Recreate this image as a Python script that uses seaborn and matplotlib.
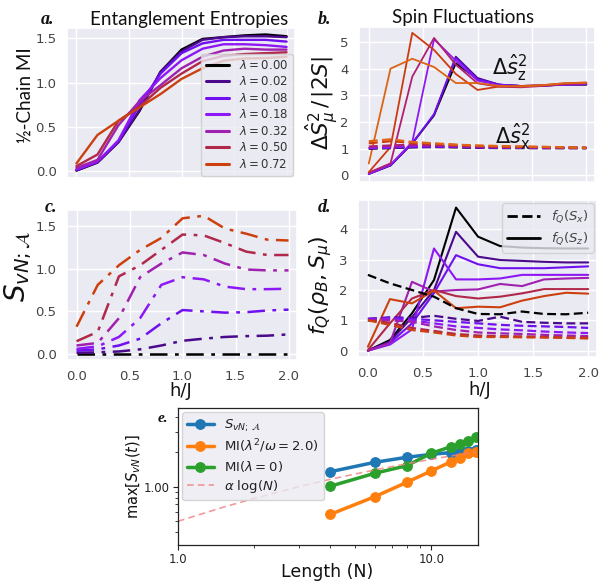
import numpy as np
import pandas as pd
import matplotlib
matplotlib.use("Agg")
import matplotlib.pyplot as plt
import seaborn as sns
from matplotlib.lines import Line2D
from matplotlib.ticker import FixedLocator, FormatStrFormatter, LogLocator, NullFormatter

# ---------------- data ----------------
h = [0.0, 0.2, 0.4, 0.6, 0.8, 1.0, 1.2, 1.4, 1.6, 1.8, 2.0]
lambdas = ["0.00", "0.02", "0.08", "0.18", "0.32", "0.50", "0.72"]
colors = ["#000000", "#4b0a8c", "#7010f0", "#8e18f5", "#a020b0", "#b0284a", "#cc4010"]
colors_b = ["#000000", "#4b0a8c", "#7010f0", "#9018f0", "#b02070", "#cc3a10", "#dd6414"]

# panel a: half-chain MI
mi_000 = [0.01, 0.10, 0.33, 0.68, 1.12, 1.37, 1.49, 1.51, 1.53, 1.54, 1.52]
mi_002 = [0.01, 0.10, 0.33, 0.69, 1.12, 1.35, 1.48, 1.51, 1.52, 1.52, 1.51]
mi_008 = [0.02, 0.11, 0.34, 0.75, 1.10, 1.33, 1.44, 1.48, 1.48, 1.48, 1.46]
mi_018 = [0.02, 0.11, 0.35, 0.80, 1.05, 1.25, 1.38, 1.43, 1.43, 1.42, 1.40]
mi_032 = [0.04, 0.13, 0.52, 0.79, 0.97, 1.16, 1.29, 1.36, 1.38, 1.37, 1.37]
mi_050 = [0.06, 0.19, 0.57, 0.73, 0.94, 1.10, 1.24, 1.30, 1.32, 1.33, 1.34]
mi_072 = [0.09, 0.41, 0.57, 0.72, 0.87, 1.04, 1.16, 1.245, 1.27, 1.275, 1.29]

# panel b: spin fluctuations (solid: z, dashed: x)
sz_000 = [0.06, 0.37, 1.20, 2.25, 4.20, 3.60, 3.40, 3.35, 3.37, 3.40, 3.40]
sz_002 = [0.05, 0.37, 1.20, 2.25, 4.45, 3.65, 3.40, 3.35, 3.35, 3.40, 3.40]
sz_008 = [0.05, 0.38, 1.20, 2.30, 4.40, 3.60, 3.40, 3.35, 3.36, 3.40, 3.42]
sz_018 = [0.06, 0.40, 1.25, 5.10, 4.30, 3.55, 3.38, 3.35, 3.37, 3.40, 3.42]
sz_032 = [0.10, 0.45, 3.70, 5.15, 4.15, 3.45, 3.32, 3.30, 3.35, 3.42, 3.45]
sz_050 = [0.12, 1.06, 5.34, 4.70, 3.80, 3.20, 3.33, 3.35, 3.38, 3.45, 3.48]
sz_072 = [0.44, 4.00, 4.37, 4.06, 3.46, 3.46, 3.35, 3.33, 3.38, 3.45, 3.47]
sx_000 = [1.00, 1.02, 1.05, 1.06, 1.05, 1.03, 1.02, 1.02, 1.02, 1.02, 1.02]
sx_002 = [1.01, 1.03, 1.06, 1.07, 1.06, 1.04, 1.03, 1.03, 1.02, 1.02, 1.02]
sx_008 = [1.02, 1.04, 1.07, 1.08, 1.07, 1.05, 1.04, 1.03, 1.03, 1.03, 1.02]
sx_018 = [1.03, 1.06, 1.10, 1.10, 1.08, 1.06, 1.05, 1.04, 1.04, 1.03, 1.03]
sx_032 = [1.08, 1.12, 1.15, 1.13, 1.10, 1.08, 1.06, 1.05, 1.05, 1.04, 1.03]
sx_050 = [1.20, 1.28, 1.22, 1.18, 1.14, 1.10, 1.08, 1.07, 1.06, 1.05, 1.04]
sx_072 = [1.28, 1.35, 1.25, 1.20, 1.15, 1.12, 1.10, 1.08, 1.07, 1.05, 1.03]

# panel c: S_vN;A
sv_000 = [0.00, 0.00, 0.00, 0.00, 0.00, 0.00, 0.00, 0.00, 0.00, 0.00, 0.00]
sv_002 = [0.015, 0.02, 0.03, 0.055, 0.10, 0.155, 0.18, 0.20, 0.21, 0.215, 0.23]
sv_008 = [0.04, 0.055, 0.10, 0.18, 0.36, 0.515, 0.50, 0.485, 0.49, 0.51, 0.52]
sv_018 = [0.06, 0.09, 0.20, 0.42, 0.81, 0.90, 0.875, 0.79, 0.76, 0.76, 0.765]
sv_032 = [0.10, 0.13, 0.42, 0.90, 1.06, 1.19, 1.16, 1.06, 0.99, 0.98, 0.98]
sv_050 = [0.15, 0.26, 0.91, 1.04, 1.22, 1.40, 1.39, 1.30, 1.20, 1.16, 1.16]
sv_072 = [0.32, 0.81, 1.04, 1.22, 1.36, 1.59, 1.62, 1.47, 1.41, 1.34, 1.33]

# panel d: quantum Fisher information (solid: S_z, dashed: S_x)
fz_000 = [0.00, 0.35, 1.23, 2.33, 4.72, 3.76, 3.45, 3.40, 3.38, 3.37, 3.37]
fz_002 = [0.00, 0.30, 1.10, 2.00, 3.92, 3.10, 2.99, 2.96, 2.93, 2.91, 2.91]
fz_008 = [0.00, 0.25, 0.90, 1.90, 3.15, 2.85, 2.72, 2.72, 2.72, 2.75, 2.78]
fz_018 = [0.00, 0.20, 0.70, 3.37, 2.35, 2.35, 2.38, 2.50, 2.50, 2.50, 2.50]
fz_032 = [0.00, 0.25, 2.27, 1.95, 2.00, 2.02, 2.20, 2.13, 2.35, 2.38, 2.40]
fz_050 = [0.02, 0.90, 1.72, 2.00, 1.80, 1.72, 1.78, 1.89, 2.03, 2.03, 2.03]
fz_072 = [0.13, 1.70, 1.56, 1.98, 1.40, 1.45, 1.43, 1.65, 1.80, 1.91, 1.88]
fx_000 = [2.50, 2.22, 2.00, 1.78, 1.40, 1.21, 1.20, 1.29, 1.21, 1.20, 1.25]
fx_002 = [1.05, 1.10, 1.08, 1.15, 1.05, 0.98, 1.12, 0.95, 0.92, 0.90, 0.90]
fx_008 = [1.05, 1.08, 1.05, 1.00, 0.95, 0.90, 0.85, 0.82, 0.80, 0.78, 0.75]
fx_018 = [1.03, 1.05, 1.00, 0.90, 0.80, 0.75, 0.70, 0.67, 0.63, 0.60, 0.58]
fx_032 = [1.00, 1.00, 0.95, 0.80, 0.68, 0.60, 0.57, 0.55, 0.52, 0.50, 0.48]
fx_050 = [1.00, 0.92, 0.75, 0.65, 0.55, 0.50, 0.48, 0.47, 0.45, 0.44, 0.43]
fx_072 = [1.00, 0.85, 0.68, 0.60, 0.50, 0.45, 0.45, 0.44, 0.43, 0.42, 0.40]

# panel e: scaling with length
N = [4, 6, 8, 10, 12, 13, 14, 15]
e_svn = [1.35, 1.63, 1.80, 1.91, 1.98, 2.00, 2.04, 2.08]
e_mi2 = [0.575, 0.82, 1.09, 1.37, 1.65, 1.77, 1.95, 2.01]
e_mi0 = [1.01, 1.31, 1.52, 1.95, 2.23, 2.34, 2.51, 2.69]
fit_N = [1.0, 1.5, 2.0, 3.0, 4.0, 6.0, 8.0, 10.0, 12.0, 15.0]
fit_y = [0.50, 0.66, 0.79, 1.00, 1.16, 1.40, 1.58, 1.73, 1.85, 2.00]

# ---------------- figure ----------------
sns.set_theme(style="darkgrid")
W, H = 605, 581
fig = plt.figure(figsize=(W / 100, H / 100), dpi=100)

def box(l, r, t, b):
    return [l / W, 1 - b / H, (r - l) / W, (b - t) / H]

axa = fig.add_axes(box(67, 295, 28, 178))
axb = fig.add_axes(box(359, 595, 27, 182))
axc = fig.add_axes(box(67, 297, 210, 360))
axd = fig.add_axes(box(358, 597, 200, 357))
axe = fig.add_axes(box(178, 478, 408, 545))

tick_col = "#444444"
for ax in (axa, axb, axc, axd):
    ax.set_xticks([0.0, 0.5, 1.0, 1.5, 2.0])
    ax.tick_params(axis="both", labelsize=9.5, colors=tick_col, pad=1.5)
    ax.set_xlim(-0.09, 2.08)

def line(ax, y, c, ls="-", lw=1.6, label=None, dashes=None):
    sns.lineplot(x=h, y=y, color=c, lw=lw, ax=ax, label=label, linestyle=ls)
    if dashes is not None:
        ax.lines[-1].set_dashes(dashes)

# a
mi_all = [mi_000, mi_002, mi_008, mi_018, mi_032, mi_050, mi_072]
for lam, y, c in zip(lambdas, mi_all, colors):
    line(axa, y, c, lw=1.7, label=r"$\lambda = %s$" % lam)
axa.set_ylim(-0.074, 1.613)
axa.set_yticks([0.0, 0.5, 1.0, 1.5])
axa.set_xticklabels([])
leg = axa.legend(loc="lower right", fontsize=8.5, frameon=True, handlelength=2.0,
                 borderpad=0.4, labelspacing=0.3, handletextpad=0.8,
                 borderaxespad=0.2)
for t in leg.get_texts():
    t.set_color("#333333")
for l in leg.get_lines():
    l.set_linewidth(2.2)

# b
sz_all = [sz_000, sz_002, sz_008, sz_018, sz_032, sz_050, sz_072]
sx_all = [sx_000, sx_002, sx_008, sx_018, sx_032, sx_050, sx_072]
for y, c in zip(sz_all, colors_b):
    line(axb, y, c, lw=1.3)
for y, c in zip(sx_all, colors_b):
    line(axb, y, c, lw=1.6, dashes=(4, 2))
axb.set_ylim(-0.25, 5.56)
axb.set_yticks([0, 1, 2, 3, 4, 5])
axb.set_xticklabels([])
fig.text(510 / W, 1 - 68 / H, r"$\Delta\hat{s}_{\mathrm{z}}^{2}$", fontsize=15,
         ha="center", va="center", color="#111111")
fig.text(513 / W, 1 - 137 / H, r"$\Delta\hat{s}_{\mathrm{x}}^{2}$", fontsize=15,
         ha="center", va="center", color="#111111")

# c
sv_all = [sv_000, sv_002, sv_008, sv_018, sv_032, sv_050, sv_072]
for y, c in zip(sv_all, colors):
    line(axc, y, c, lw=1.8, dashes=(7, 3, 1.5, 3))
axc.set_ylim(-0.07, 1.6875)
axc.set_yticks([0.0, 0.5, 1.0, 1.5])

# d
fz_all = [fz_000, fz_002, fz_008, fz_018, fz_032, fz_050, fz_072]
fx_all = [fx_000, fx_002, fx_008, fx_018, fx_032, fx_050, fx_072]
for y, c in zip(fz_all, colors):
    line(axd, y, c, lw=1.5)
for y, c in zip(fx_all, colors):
    line(axd, y, c, lw=1.6, dashes=(4, 2))
axd.set_ylim(-0.21, 4.97)
axd.set_yticks([0, 1, 2, 3, 4])
hd = [Line2D([], [], color="black", lw=2, ls="--"), Line2D([], [], color="black", lw=2)]
legd = axd.legend(hd, [r"$f_Q(S_x)$", r"$f_Q(S_z)$"], loc="upper right", fontsize=9.5,
                  handlelength=2.5, borderaxespad=0.25, frameon=True, labelspacing=0.4)
for t in legd.get_texts():
    t.set_color("#444444")

for ax in (axa, axb, axc, axd):
    ax.set_xlabel("")
    ax.set_ylabel("")

# e (plain matplotlib-style axes)
axe.set_facecolor("white")
axe.grid(False)
for s in axe.spines.values():
    s.set_visible(True)
    s.set_color("#222222")
    s.set_linewidth(0.9)
sns.lineplot(x=N, y=e_svn, ax=axe, color="#1f77b4", lw=2.5, marker="o", ms=7,
             mec="#1f77b4", label=r"$S_{vN;\,\mathcal{A}}$")
sns.lineplot(x=N, y=e_mi2, ax=axe, color="#ff7f0e", lw=2.5, marker="o", ms=7,
             mec="#ff7f0e", label=r"MI($\lambda^2/\omega = 2.0$)")
sns.lineplot(x=N, y=e_mi0, ax=axe, color="#2ca02c", lw=2.5, marker="o", ms=7,
             mec="#2ca02c", label=r"MI($\lambda = 0$)")
sns.lineplot(x=fit_N, y=fit_y, ax=axe, color="#f08080", lw=1.2, alpha=0.8,
             label=r"$\alpha$ log($N$)")
axe.lines[-1].set_dashes((4, 2.5))
axe.set_xscale("log")
axe.set_yscale("log")
axe.set_xlim(1.0, 15.3)
axe.set_ylim(0.311, 4.83)
axe.xaxis.set_major_locator(FixedLocator([1.0, 10.0]))
axe.xaxis.set_major_formatter(FormatStrFormatter("%.1f"))
axe.xaxis.set_minor_locator(LogLocator(base=10, subs=np.arange(2, 10)))
axe.xaxis.set_minor_formatter(NullFormatter())
axe.yaxis.set_major_locator(FixedLocator([1.0]))
axe.yaxis.set_major_formatter(FormatStrFormatter("%.2f"))
axe.yaxis.set_minor_locator(LogLocator(base=10, subs=np.arange(2, 10)))
axe.yaxis.set_minor_formatter(NullFormatter())
axe.tick_params(which="both", direction="out", color="#222222", labelsize=8.5,
                labelcolor="#222222", left=True, bottom=True, pad=2.5)
axe.tick_params(which="major", length=3.5, width=0.8)
axe.tick_params(which="minor", length=2, width=0.6)
axe.set_xlabel("")
axe.set_ylabel("")
lege = axe.legend(loc="upper left", fontsize=9.5, frameon=True, borderaxespad=0.3,
                  handlelength=2.0, labelspacing=0.3, borderpad=0.4)
lege.get_frame().set_edgecolor("#cccccc")
for t in lege.get_texts():
    t.set_color("#222222")

# ---------------- labels ----------------
sans = ["Lato", "DejaVu Sans"]
fig.text(189 / W, 1 - 20 / H, "Entanglement Entropies", fontsize=13.5, family=sans,
         ha="center", va="center", color="#111111")
fig.text(463 / W, 1 - 18 / H, "Spin Fluctuations", fontsize=13.5, family=sans,
         ha="center", va="center", color="#111111")
fig.text(25 / W, 1 - 95 / H, "½-Chain MI", fontsize=13.5, family=sans, rotation=90,
         ha="center", va="center", color="#111111")
fig.text(322 / W, 1 - 103 / H, r"$\Delta\hat{S}^2_{\mu}\,/\,|2S|$", fontsize=15.5,
         rotation=90, ha="center", va="center", color="#111111")
fig.text(18 / W, 1 - 266 / H, r"$S_{vN;\mathcal{A}}$", fontsize=20, rotation=90,
         ha="center", va="center", color="#111111")
fig.text(321 / W, 1 - 285 / H, r"$f_Q(\rho_B, S_\mu)$", fontsize=16, rotation=90,
         ha="center", va="center", color="#111111")
fig.text(181 / W, 1 - 391 / H, "h/J", fontsize=13, ha="center", va="center", color="#111111")
fig.text(480 / W, 1 - 390 / H, "h/J", fontsize=13, ha="center", va="center", color="#111111")
fig.text(327 / W, 1 - 572 / H, "Length (N)", fontsize=12.5, ha="center", va="center",
         color="#111111")
fig.text(134 / W, 1 - 477 / H, r"max[$S_{vN}(t)$]", fontsize=10.5, rotation=90,
         ha="center", va="center", color="#111111")

serif = ["Liberation Serif", "DejaVu Serif"]
for txt, x, y in [("a.", 48, 19), ("b.", 325, 19), ("c.", 51, 207), ("d.", 325, 208), ("e.", 163, 418)]:
    fig.text(x / W, 1 - y / H, txt, fontsize=13 if txt != "e." else 11, family=serif,
             weight="bold", style="italic", ha="center", va="center", color="#111111")

fig.savefig("out.png", dpi=100)
